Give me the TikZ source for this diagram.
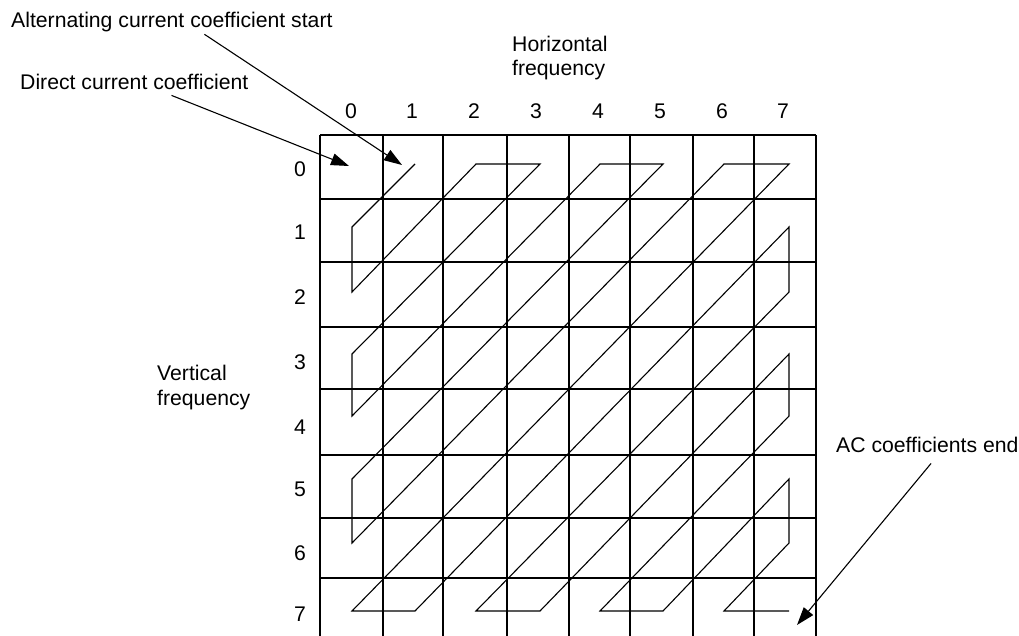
\documentclass[tikz,border=0pt]{standalone}
\usepackage{fontspec}
\setmainfont{Liberation Sans}
\usetikzlibrary{arrows.meta,calc}

\tikzset{
  gridline/.style={line width=1.3pt},
  zigzag/.style={line width=1.1pt, line join=miter},
  pointer/.style={-{Triangle[length=18pt,width=12pt]}, line width=1.1pt},
  lbl/.style={font=\fontsize{21.2}{24.3}\selectfont, inner sep=2pt},
}

\begin{document}
\begin{tikzpicture}[x=1pt, y=-1pt]
  \useasboundingbox (0,0) rectangle (1019,636);
  % grid
  \foreach \x in {320,383,443,507,569,630,693,754,816}
    \draw[gridline] (\x,135) -- (\x,636);
  \foreach \y in {135,199,262,327,389,455,518,578}
    \draw[gridline] (320,\y) -- (816,\y);
  % index labels
  \foreach \x/\i in {351/0,412/1,474/2,536/3,598/4,660/5,722/6,783/7}
    \node[lbl, anchor=base] (col\i) at (\x,119) {\i};
  \foreach \y/\i in {177/0,240/1,304/2,369/3,434/4,496/5,560/6,621/7}
    \node[lbl, anchor=base] (row\i) at (300,\y) {\i};
  % zigzag cell centres
  \foreach \x/\i in {352/0,415/1,476/2,540/3,600/4,663/5,724/6,789/7}
    \coordinate (c\i) at (\x,0);
  \foreach \y/\i in {164/0,227/1,292/2,354/3,416/4,479/5,543/6,611/7}
    \coordinate (r\i) at (0,\y);
  \draw[zigzag] (c1|-r0) -- (c0|-r1) -- (c0|-r2) -- (c2|-r0) -- (c3|-r0)
    -- (c0|-r3) -- (c0|-r4) -- (c4|-r0) -- (c5|-r0) -- (c0|-r5) -- (c0|-r6)
    -- (c6|-r0) -- (c7|-r0) -- (c0|-r7) -- (c1|-r7) -- (c7|-r1) -- (c7|-r2)
    -- (c2|-r7) -- (c3|-r7) -- (c7|-r3) -- (c7|-r4) -- (c4|-r7) -- (c5|-r7)
    -- (c7|-r5) -- (c7|-r6) -- (c6|-r7) -- (c7|-r7);
  % captions
  \node[lbl, anchor=base west] (acstart) at (9,27.7) {Alternating current coefficient start};
  \node[lbl, anchor=base west] (dccoef) at (18,90) {Direct current coefficient};
  \node[lbl, anchor=base west, align=left] (horfreq) at (510,76) {Horizontal\\frequency};
  \node[lbl, anchor=base west, align=left] (verfreq) at (155,405) {Vertical\\frequency};
  \node[lbl, anchor=base west] (acend) at (834,452) {AC coefficients end};
  % pointers
  \coordinate (actip) at (402,165);
  \coordinate (dctip) at (349,166);
  \coordinate (endtip) at (797,625);
  \draw[pointer] ($(acstart.south west)!0.6!(acstart.south east)$) -- (actip);
  \draw[pointer] ($(dccoef.south west)!0.66!(dccoef.south east)+(0,3)$) -- (dctip);
  \draw[pointer] ($(acend.south west)!0.52!(acend.south east)+(0,9)$) -- (endtip);
\end{tikzpicture}
\end{document}
